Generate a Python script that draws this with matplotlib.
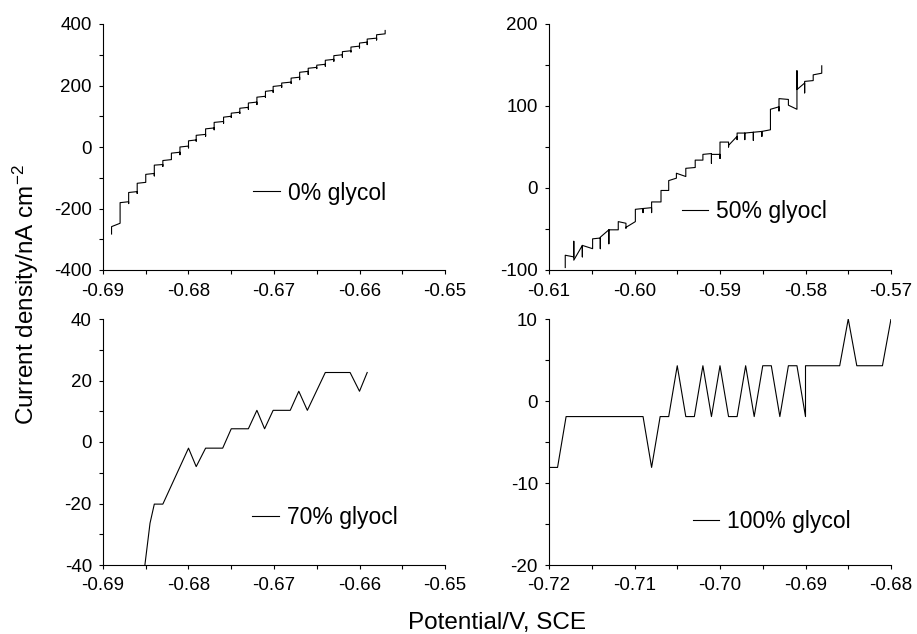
import matplotlib
matplotlib.use("Agg")
import matplotlib.pyplot as plt
from matplotlib.ticker import MultipleLocator, FormatStrFormatter

plt.rcParams["font.family"] = ["Liberation Sans", "DejaVu Sans"]
plt.rcParams["axes.unicode_minus"] = False
plt.rcParams["mathtext.default"] = "regular"

# 0% glycol: staircase, each step = (potential, level before jump, dip, level after jump)
pot_0 = [-0.6890, -0.6880, -0.6870, -0.6860, -0.6850, -0.6840, -0.6830, -0.6820, -0.6810,
         -0.6800, -0.6791, -0.6780, -0.6770, -0.6759, -0.6750, -0.6740, -0.6730, -0.6720,
         -0.6710, -0.6701, -0.6691, -0.6680, -0.6670, -0.6660, -0.6650, -0.6640, -0.6630,
         -0.6620, -0.6610, -0.6600, -0.6591, -0.6580, -0.6570]
lo_0 = [-283, -248, -178, -145, -115, -86, -57, -41, -17, 3, 23, 41, 62, 83, 100, 113, 129,
        146, 165, 184, 200, 211, 227, 246, 259, 269, 285, 300, 313, 328, 341, 354, 368]
sp_0 = [-283, -248, -184, -151, -115, -94, -63, -41, -25, -3, 19, 35, 56, 77, 96, 109, 123,
        138, 161, 178, 194, 207, 219, 236, 255, 263, 279, 292, 309, 322, 333, 348, 368]
hi_0 = [-259, -181, -148, -118, -89, -59, -44, -20, 0, 20, 38, 59, 80, 97, 110, 126, 143,
        162, 181, 197, 208, 224, 243, 256, 266, 282, 297, 310, 325, 338, 351, 365, 379]

# 50% glycol
pot_50 = [-0.6081, -0.6071, -0.6061, -0.6049, -0.6040, -0.6030, -0.6019, -0.6010, -0.5999,
          -0.5990, -0.5980, -0.5969, -0.5960, -0.5951, -0.5940, -0.5929, -0.5920, -0.5910,
          -0.5900, -0.5890, -0.5880, -0.5871, -0.5861, -0.5851, -0.5841, -0.5831, -0.5820,
          -0.5810, -0.5801, -0.5791, -0.5781]
lo_50 = [-97, -84, -70, -74, -61, -51, -51, -43, -41, -25, -24, -17, -3, 12, 14, 25, 34, 42,
         41, 56, 63, 67, 68, 69, 71, 99, 108, 96, 128, 131, 140]
sp_50 = [-97, -65, -84, -74, -74, -68, -51, -49, -41, -30, -30, -17, -3, 12, 14, 25, 34, 30,
         36, 50, 59, 59, 58, 63, 71, 94, 108, 143, 116, 131, 140]
hi_50 = [-82, -88, -70, -62, -60, -51, -41, -48, -26, -25, -17, -3, 9, 18, 24, 34, 41, 41,
         56, 52, 67, 67, 68, 69, 96, 109, 101, 120, 130, 138, 149]

# 70% glycol
pot_70 = [-0.6851, -0.6845, -0.6840, -0.6830, -0.6800, -0.6791, -0.6780, -0.6760, -0.6750,
          -0.6730, -0.6720, -0.6711, -0.6701, -0.6681, -0.6671, -0.6661, -0.6640, -0.6611,
          -0.6600, -0.6591]
cur_70 = [-40, -26.4, -20.2, -20.2, -2.0, -8.0, -2.0, -2.0, 4.3, 4.3, 10.3, 4.3, 10.3, 10.3,
          16.5, 10.3, 22.6, 22.6, 16.5, 22.6]

# 100% glycol
pot_100 = [-0.7199, -0.7190, -0.7180, -0.7090, -0.7080, -0.7070, -0.7060, -0.7050, -0.7040,
           -0.7030, -0.7020, -0.7010, -0.7000, -0.6990, -0.6980, -0.6970, -0.6960, -0.6950,
           -0.6940, -0.6930, -0.6920, -0.6910, -0.6900, -0.6900, -0.6860, -0.6850, -0.6840,
           -0.6810, -0.6800]
cur_100 = [-8.1, -8.1, -1.9, -1.9, -8.1, -1.9, -1.9, 4.3, -1.9, -1.9, 4.3, -1.9, 4.3, -1.9,
           -1.9, 4.3, -1.9, 4.3, 4.3, -1.9, 4.3, 4.3, -1.9, 4.3, 4.3, 10.0, 4.3, 4.3, 10.0]

labels = ["0% glycol", "50% glyocl", "70% glyocl", "100% glycol"]


def stairs(pot, lo, sp, hi):
    xs, ys = [], []
    for e, a, s, b in zip(pot, lo, sp, hi):
        xs += [e, e, e]
        ys += [a, s, b]
    return xs, ys


fig = plt.figure(figsize=(9.17, 6.34), dpi=100)
W, H = 917, 634
boxes = [(103, 24), (549, 24), (103, 319), (549, 319)]
axes = []
for (x0, y0) in boxes:
    ax = fig.add_axes([x0 / W, 1 - (y0 + 246) / H, 342 / W, 246 / H])
    axes.append(ax)

x0s, y0s = stairs(pot_0, lo_0, sp_0, hi_0)
x50, y50 = stairs(pot_50, lo_50, sp_50, hi_50)
series = [(x0s, y0s), (x50, y50), (pot_70, cur_70), (pot_100, cur_100)]

limits = [((-0.69, -0.65), (-400, 400), 200, 100),
          ((-0.61, -0.57), (-100, 200), 100, 50),
          ((-0.69, -0.65), (-40, 40), 20, 10),
          ((-0.72, -0.68), (-20, 10), 10, 5)]
leg_pos = [(0.44, 0.313), (0.389, 0.236), (0.437, 0.195), (0.421, 0.175)]

for ax, (xs, ys), (xl, yl, ymaj, ymin), lab, lp in zip(axes, series, limits, labels, leg_pos):
    ax.plot(xs, ys, color="black", lw=0.8, label=lab)
    ax.set_xlim(*xl)
    ax.set_ylim(*yl)
    ax.xaxis.set_major_locator(MultipleLocator(0.01))
    ax.xaxis.set_minor_locator(MultipleLocator(0.005))
    ax.xaxis.set_major_formatter(FormatStrFormatter("%.2f"))
    ax.yaxis.set_major_locator(MultipleLocator(ymaj))
    ax.yaxis.set_minor_locator(MultipleLocator(ymin))
    ax.spines["top"].set_visible(False)
    ax.spines["right"].set_visible(False)
    for s in ("left", "bottom"):
        ax.spines[s].set_linewidth(0.8)
    ax.tick_params(which="both", direction="out", length=3, width=0.8, labelsize=13.5)
    ax.tick_params(axis="x", pad=6)
    ax.tick_params(axis="y", pad=5)
    ax.legend(loc="center left", bbox_to_anchor=lp, frameon=False, fontsize=16.5,
              borderpad=0, borderaxespad=0, handlelength=1.15, handletextpad=0.35)

fig.text(26 / W, 1 - 295 / H, "Current density/nA cm$^{-2}$", rotation=90,
         ha="center", va="center", fontsize=17.5)
fig.text(497 / W, 1 - 623 / H, "Potential/V, SCE", ha="center", va="center", fontsize=17.5)

fig.savefig("out.png", dpi=100)
